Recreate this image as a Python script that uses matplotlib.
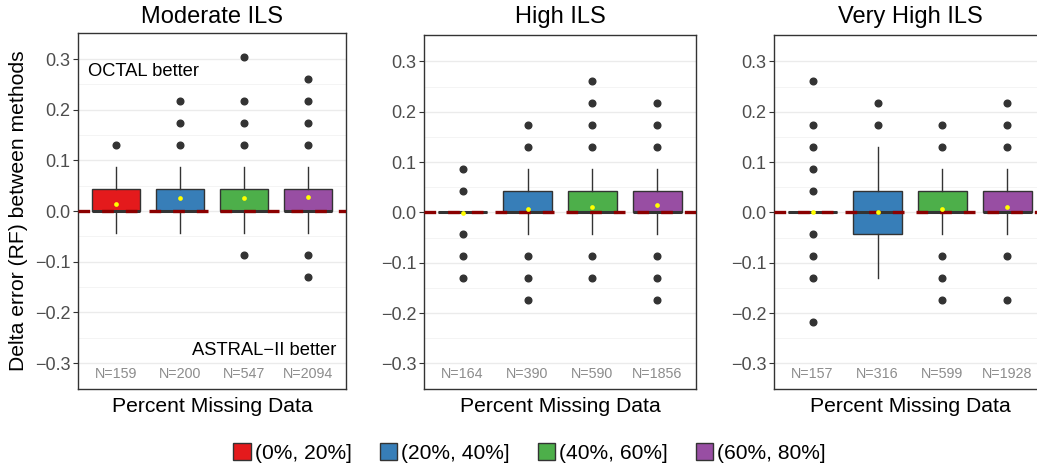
import numpy as np
import matplotlib
matplotlib.use('Agg')
import matplotlib.pyplot as plt
from matplotlib.patches import Patch

plt.rcParams['font.family'] = ['Liberation Sans', 'DejaVu Sans']

titles = ['Moderate ILS', 'High ILS', 'Very High ILS']
groups = ['(0%, 20%]', '(20%, 40%]', '(40%, 60%]', '(60%, 80%]']
n_counts = [[159, 200, 547, 2094],
            [164, 390, 590, 1856],
            [157, 316, 599, 1928]]

# box stats
q1 = [[0, 0, 0, 0], [0, 0, 0, 0], [0, -0.0435, 0, 0]]
med = [[0, 0, 0, 0], [0, 0, 0, 0], [0, 0, 0, 0]]
q3 = [[0.0435, 0.0435, 0.0435, 0.0435], [0, 0.0435, 0.0435, 0.0435], [0, 0.0435, 0.0435, 0.0435]]
whis_lo = [[-0.0435, -0.0435, -0.0435, -0.0435], [0, -0.0435, -0.0435, -0.0435], [0, -0.13, -0.0435, -0.0435]]
whis_hi = [[0.087, 0.087, 0.087, 0.087], [0, 0.087, 0.087, 0.087], [0, 0.13, 0.087, 0.087]]
means = [[0.014, 0.025, 0.026, 0.027],
         [-0.002, 0.007, 0.010, 0.015],
         [0.001, 0.0, 0.006, 0.011]]
outliers = [
    [[0.13], [0.13, 0.174, 0.217], [0.13, 0.174, 0.217, 0.304, -0.087],
     [0.13, 0.174, 0.217, 0.261, -0.087, -0.13]],
    [[0.087, 0.0435, -0.0435, -0.087, -0.13], [0.174, 0.13, -0.087, -0.13, -0.174],
     [0.261, 0.217, 0.174, 0.13, -0.087, -0.13], [0.217, 0.174, 0.13, -0.087, -0.13, -0.174]],
    [[0.261, 0.174, 0.13, 0.087, 0.0435, -0.0435, -0.087, -0.13, -0.217], [0.217, 0.174],
     [0.174, 0.13, -0.087, -0.13, -0.174], [0.217, 0.174, 0.13, -0.087, -0.174]],
]

colors = ['#E41A1C', '#377EB8', '#4DAF4A', '#984EA3']

W, H = 1037, 467
fig = plt.figure(figsize=(W / 100, H / 100), dpi=100)

# axes boxes in pixels: left, top, width, bottom
boxes_px = [(78.3, 32.7, 267.4, 388.5),
            (424.3, 35.3, 271.4, 388.5),
            (774.3, 35.3, 271.4, 388.5)]

for p in range(3):
    l, t, w, b = boxes_px[p]
    ax = fig.add_axes([l / W, (H - b) / H, w / W, (b - t) / H])
    stats = []
    for i in range(4):
        stats.append(dict(q1=q1[p][i], med=med[p][i], q3=q3[p][i],
                          whislo=whis_lo[p][i], whishi=whis_hi[p][i],
                          fliers=outliers[p][i]))
    x = np.arange(4)
    bp = ax.bxp(stats, positions=x, widths=0.75, patch_artist=True, showcaps=False,
                boxprops=dict(edgecolor='#333333', linewidth=1.0),
                whiskerprops=dict(color='#333333', linewidth=1.0),
                medianprops=dict(color='#333333', linewidth=2.2),
                flierprops=dict(marker='o', markerfacecolor='#333333', markeredgecolor='#333333',
                                markersize=4.8, linestyle='none'))
    for patch, c in zip(bp['boxes'], colors):
        patch.set_facecolor(c)
    for art in bp['boxes'] + bp['whiskers'] + bp['medians'] + bp['fliers']:
        art.set_zorder(3)

    ax.axhline(0, color='#8B0000', lw=2.4, linestyle=(0, (3.5, 3.6)), zorder=4)
    ax.plot(x, means[p], 'o', color='#FFFF00', markersize=3.4, markeredgewidth=0, zorder=5)

    for i in range(4):
        ax.text(x[i], -0.321, 'N=%d' % n_counts[p][i], ha='center', va='center',
                fontsize=10.3, color='#8C8C8C')

    ax.set_xlim(-0.59, 3.59)
    ax.set_ylim(-0.35, 0.352)
    ax.set_yticks([-0.3, -0.2, -0.1, 0.0, 0.1, 0.2, 0.3])
    ax.set_yticklabels(['\u22120.3', '\u22120.2', '\u22120.1', '0.0', '0.1', '0.2', '0.3'])
    ax.set_yticks([-0.25, -0.15, -0.05, 0.05, 0.15, 0.25], minor=True)
    ax.set_xticks([])
    ax.tick_params(axis='y', which='major', length=3.5, width=0.8, color='#333333',
                   labelsize=13, labelcolor='#4D4D4D', pad=2)
    ax.tick_params(axis='y', which='minor', length=0)
    ax.grid(axis='y', which='major', color='#EBEBEB', lw=1.0, zorder=0)
    ax.grid(axis='y', which='minor', color='#F2F2F2', lw=0.6, zorder=0)
    ax.set_axisbelow(True)
    for s in ax.spines.values():
        s.set_color('#333333')
        s.set_linewidth(1.0)

    cx = l + w / 2
    fig.text(cx / W, 1 - 22.7 / H, titles[p], ha='center', va='baseline', fontsize=17)
    fig.text(cx / W, 1 - 411.7 / H, 'Percent Missing Data', ha='center', va='baseline', fontsize=15.2)

    if p == 0:
        ax.text(-0.44, 0.275, 'OCTAL better', ha='left', va='center', fontsize=13.2)
        ax.text(3.45, -0.276, 'ASTRAL\u2212II better', ha='right', va='center', fontsize=13.2)

fig.text(19 / W, 1 - 211 / H, 'Delta error (RF) between methods', rotation=90,
         ha='center', va='center', fontsize=15.2)

handles = [Patch(facecolor=c, edgecolor='#333333', linewidth=1.0) for c in colors]
fig.legend(handles, groups, loc='center', bbox_to_anchor=(529.5 / W, 1 - 453 / H), ncol=4,
           frameon=False, fontsize=15.1, handlelength=0.82, handleheight=0.82,
           handletextpad=0.2, columnspacing=1.33, borderpad=0)

fig.savefig('out.png', dpi=100)
